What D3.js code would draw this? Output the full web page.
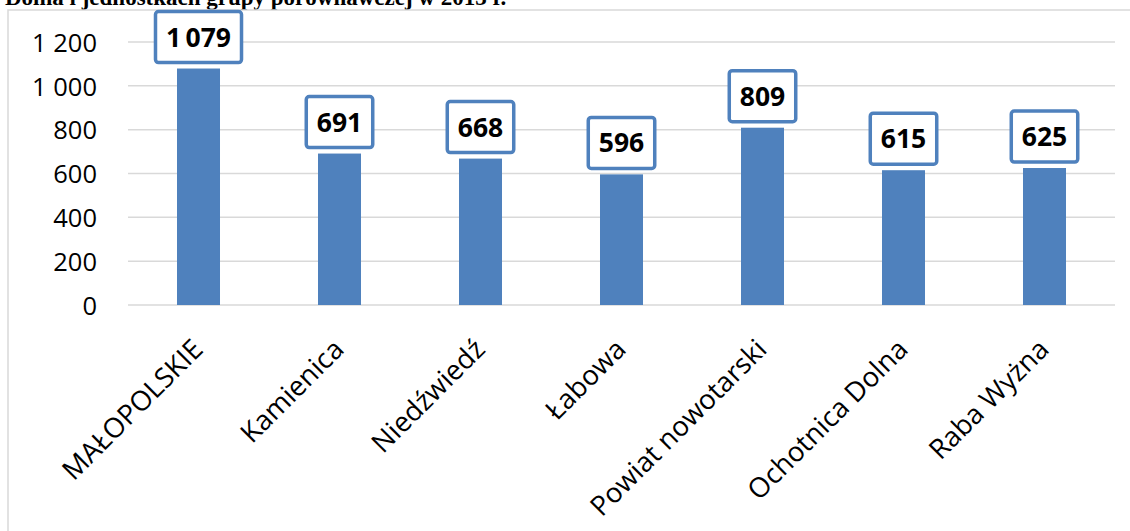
<!DOCTYPE html>
<html>
<head>
<meta charset="utf-8">
<script src="https://cdn.jsdelivr.net/npm/d3@7"></script>
<style>
  html, body { margin: 0; padding: 0; background: #fff; }
  svg { display: block; }
</style>
</head>
<body>
<svg id="chart" width="1130" height="531"></svg>
<script>
const titleText = "Dolna i jednostkach grupy porównawczej w 2013 r.";
const categories = ["MAŁOPOLSKIE", "Kamienica", "Niedźwiedź", "Łabowa", "Powiat nowotarski", "Ochotnica Dolna", "Raba Wyżna"];
const values = [1079, 691, 668, 596, 809, 615, 625];
const yTicks = [0, 200, 400, 600, 800, 1000, 1200];

const svg = d3.select("#chart");
const W = 1130, H = 531;
const m = { left: 128, right: 15 };

const fmt = d3.formatLocale({ decimal: ",", thousands: "\u2009", grouping: [3], currency: ["", ""] }).format(",d");
const fmtTick = d3.formatLocale({ decimal: ",", thousands: " ", grouping: [3], currency: ["", ""] }).format(",d");

// title (partly clipped at top, as in the source)
svg.append("text")
  .attr("x", 5).attr("y", 5)
  .attr("font-family", "Liberation Serif, serif")
  .attr("font-weight", "bold")
  .attr("font-size", 23)
  .attr("fill", "#000")
  .text(titleText);

// chart border
svg.append("rect")
  .attr("x", 8).attr("y", 10)
  .attr("width", W + 20).attr("height", H + 20)
  .attr("fill", "#fff")
  .attr("stroke", "#d9d9d9")
  .attr("stroke-width", 1.5);

const x = d3.scaleBand().domain(categories).range([m.left, W - m.right]).paddingInner(0.695).paddingOuter(0.3475);
const y = d3.scaleLinear().domain([0, 1200]).range([305, 42]);

// gridlines
svg.append("g").selectAll("line").data(yTicks).join("line")
  .attr("x1", m.left).attr("x2", W - m.right)
  .attr("y1", d => y(d)).attr("y2", d => y(d))
  .attr("stroke", "#d9d9d9").attr("stroke-width", 1.5);

// y axis labels
const yAxis = d3.axisLeft(y).tickValues(yTicks).tickFormat(fmtTick).tickSize(0).tickPadding(0);
const ya = svg.append("g").attr("transform", "translate(97,0)").call(yAxis);
ya.select(".domain").remove();
ya.selectAll("text")
  .attr("font-family", "Open Sans, sans-serif")
  .attr("font-size", 25.5)
  .attr("fill", "#000")
  .attr("dy", "0.36em");

// bars
svg.append("g").selectAll("rect").data(values).join("rect")
  .attr("x", (d, i) => x(categories[i]))
  .attr("width", x.bandwidth())
  .attr("y", d => y(d))
  .attr("height", d => y(0) - y(d))
  .attr("fill", "#4f81bd");

// x axis labels
const xAxis = d3.axisBottom(x).tickSize(0).tickPadding(0);
const xa = svg.append("g").attr("transform", `translate(0,${y(0)})`).call(xAxis);
xa.select(".domain").remove();
xa.selectAll("text")
  .attr("font-family", "Open Sans, sans-serif")
  .attr("font-size", 27.5)
  .attr("fill", "#000")
  .attr("text-anchor", "end")
  .attr("dy", null)
  .attr("transform", "translate(6,46) rotate(-45)");

// data labels
const lg = svg.append("g").selectAll("g").data(values).join("g")
  .attr("transform", (d, i) => `translate(${x(categories[i]) + x.bandwidth() / 2},${y(d) - 6})`);
lg.append("text")
  .attr("text-anchor", "middle")
  .attr("y", -25.5)
  .attr("dy", "0.36em")
  .attr("font-family", "Open Sans, sans-serif")
  .attr("font-weight", "bold")
  .attr("font-size", 26.5)
  .attr("fill", "#000")
  .text(d => fmt(d));
lg.each(function() {
  const g = d3.select(this);
  const w = g.select("text").node().getComputedTextLength();
  g.insert("rect", "text")
    .attr("x", -w / 2 - 10.5).attr("width", w + 21)
    .attr("y", -51).attr("height", 51)
    .attr("rx", 3).attr("ry", 3)
    .attr("fill", "#fff")
    .attr("stroke", "#4f81bd")
    .attr("stroke-width", 3.5);
});
</script>
</body>
</html>
